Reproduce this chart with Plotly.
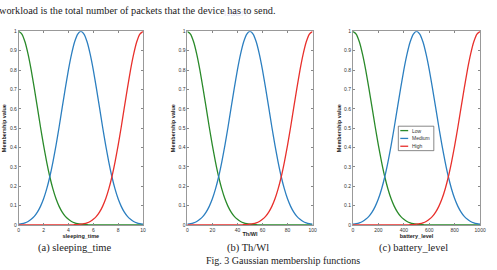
import plotly.graph_objects as go

# ---- data ----
sleeping_time = [0, 0.25, 0.5, 0.75, 1, 1.25, 1.5, 1.75, 2, 2.25, 2.5, 2.75, 3, 3.25, 3.5, 3.75,
                 4, 4.25, 4.5, 4.75, 5, 5.25, 5.5, 5.75, 6, 6.25, 6.5, 6.75, 7, 7.25, 7.5, 7.75,
                 8, 8.25, 8.5, 8.75, 9, 9.25, 9.5, 9.75, 10]
th_wl = [0, 2.5, 5, 7.5, 10, 12.5, 15, 17.5, 20, 22.5, 25, 27.5, 30, 32.5, 35, 37.5,
         40, 42.5, 45, 47.5, 50, 52.5, 55, 57.5, 60, 62.5, 65, 67.5, 70, 72.5, 75, 77.5,
         80, 82.5, 85, 87.5, 90, 92.5, 95, 97.5, 100]
battery_level = [0, 25, 50, 75, 100, 125, 150, 175, 200, 225, 250, 275, 300, 325, 350, 375,
                 400, 425, 450, 475, 500, 525, 550, 575, 600, 625, 650, 675, 700, 725, 750, 775,
                 800, 825, 850, 875, 900, 925, 950, 975, 1000]

low = [1.0, 0.986, 0.946, 0.882, 0.801, 0.707, 0.607, 0.506, 0.411, 0.325, 0.249, 0.186, 0.135,
       0.096, 0.066, 0.044, 0.029, 0.018, 0.011, 0.0066, 0.0039, 0.0022, 0.0012, 0.0006, 0.0003,
       0.0001, 0, 0, 0, 0, 0, 0, 0, 0, 0, 0, 0, 0, 0, 0, 0]
medium = [0.0039, 0.0066, 0.011, 0.018, 0.029, 0.044, 0.066, 0.096, 0.135, 0.186, 0.249, 0.325,
          0.411, 0.506, 0.607, 0.707, 0.801, 0.882, 0.946, 0.986, 1.0, 0.986, 0.946, 0.882,
          0.801, 0.707, 0.607, 0.506, 0.411, 0.325, 0.249, 0.186, 0.135, 0.096, 0.066, 0.044,
          0.029, 0.018, 0.011, 0.0066, 0.0039]
high = [0, 0, 0, 0, 0, 0, 0, 0, 0, 0, 0, 0, 0, 0, 0, 0.0001, 0.0003, 0.0006, 0.0012, 0.0022,
        0.0039, 0.0066, 0.011, 0.018, 0.029, 0.044, 0.066, 0.096, 0.135, 0.186, 0.249, 0.325,
        0.411, 0.506, 0.607, 0.707, 0.801, 0.882, 0.946, 0.986, 1.0]

series_names = ["Low", "Medium", "High"]
series_colors = ["#2a8a2a", "#2c7fc0", "#e8302c"]

x_ticks_a = [0, 2, 4, 6, 8, 10]
x_ticks_b = [0, 20, 40, 60, 80, 100]
x_ticks_c = [0, 200, 400, 600, 800, 1000]
y_ticks = [0, 0.1, 0.2, 0.3, 0.4, 0.5, 0.6, 0.7, 0.8, 0.9, 1]
y_tick_labels = ["0", "0.1", "0.2", "0.3", "0.4", "0.5", "0.6", "0.7", "0.8", "0.9", "1"]

x_titles = ["sleeping_time", "Th/Wl", "battery_level"]
captions = ["(a) sleeping_time", "(b) Th/Wl", "(c) battery_level"]

W, H = 497, 270
panels = [
    dict(x=sleeping_time, ticks=x_ticks_a, px=(18, 144), rng=[0, 10]),
    dict(x=th_wl, ticks=x_ticks_b, px=(189, 316), rng=[0, 100]),
    dict(x=battery_level, ticks=x_ticks_c, px=(357, 486), rng=[0, 1000]),
]
y_px = (29, 227)

fig = go.Figure()
layout = dict(
    width=W, height=H, margin=dict(l=0, r=0, t=0, b=0),
    paper_bgcolor="white", plot_bgcolor="white", showlegend=False,
    font=dict(family="Liberation Sans, Arial", color="#222"),
)

tick_font = dict(size=5, family="Liberation Sans, Arial", color="#333")
for i, p in enumerate(panels):
    xa = "xaxis" if i == 0 else f"xaxis{i+1}"
    ya = "yaxis" if i == 0 else f"yaxis{i+1}"
    xr = "x" if i == 0 else f"x{i+1}"
    yr = "y" if i == 0 else f"y{i+1}"
    for ys, nm, col in zip([low, medium, high], series_names, series_colors):
        fig.add_trace(go.Scatter(
            x=p["x"], y=ys, mode="lines", name=nm, xaxis=xr, yaxis=yr,
            line=dict(color=col, width=1.3, shape="spline", smoothing=0.6),
            showlegend=False))
    layout[xa] = dict(
        domain=[p["px"][0] / W, p["px"][1] / W], range=p["rng"], anchor=yr,
        tickvals=p["ticks"], ticks="inside", ticklen=2, tickcolor="#888",
        showline=True, linecolor="#999", linewidth=0.8, mirror="ticks",
        showgrid=False, zeroline=False, tickfont=tick_font,
        title=dict(text="<b>" + x_titles[i] + "</b>", font=dict(size=5.5), standoff=0),
    )
    layout[ya] = dict(
        domain=[1 - y_px[1] / H, 1 - y_px[0] / H], range=[0, 1], anchor=xr,
        tickvals=y_ticks, ticktext=y_tick_labels, ticks="inside", ticklen=2,
        tickcolor="#888", showline=True, linecolor="#999", linewidth=0.8,
        mirror="ticks", showgrid=False, zeroline=False, tickfont=tick_font,
        title=dict(text="<b>Membership value</b>", font=dict(size=5.5), standoff=2),
    )
fig.update_layout(**layout)


def px_x(v):
    return v / W


def px_y(v):
    return 1 - v / H


# legend box (panel c)
lg_left, lg_top, lg_right, lg_bottom = 403, 126, 439, 151
fig.add_shape(type="rect", xref="paper", yref="paper",
              x0=px_x(lg_left), x1=px_x(lg_right), y0=px_y(lg_bottom), y1=px_y(lg_top),
              line=dict(color="#555", width=0.7), fillcolor="white", layer="above")
for k, (nm, col) in enumerate(zip(series_names, series_colors)):
    yy = 130.5 + k * 8
    fig.add_shape(type="line", xref="paper", yref="paper",
                  x0=px_x(405), x1=px_x(413), y0=px_y(yy), y1=px_y(yy),
                  line=dict(color=col, width=1.3), layer="above")
    fig.add_annotation(x=px_x(415), y=px_y(yy), xref="paper", yref="paper",
                       xanchor="left", yanchor="middle", text=nm, showarrow=False,
                       font=dict(size=5, family="Liberation Sans, Arial", color="#333"))

serif = "Liberation Serif, Times New Roman, serif"
caption_x = [75, 251, 418]
for cx, txt in zip(caption_x, captions):
    fig.add_annotation(x=px_x(cx), y=px_y(251), xref="paper", yref="paper",
                       xanchor="center", yanchor="middle",
                       text=txt, showarrow=False, font=dict(size=10.5, family=serif, color="#222"))
fig.add_annotation(x=px_x(286), y=px_y(263), xref="paper", yref="paper",
                   xanchor="center", yanchor="middle",
                   text="Fig. 3 Gaussian membership functions", showarrow=False,
                   font=dict(size=10, family=serif, color="#222"))
fig.add_annotation(x=px_x(-4), y=px_y(8), xref="paper", yref="paper",
                   xanchor="left", yanchor="middle",
                   text="workload is the total number of packets that the device has to send.",
                   showarrow=False, font=dict(size=10.3, family=serif, color="#222"))
fig.add_annotation(x=px_x(238), y=px_y(11), xref="paper", yref="paper",
                   xanchor="center", yanchor="middle",
                   text="IJSER", showarrow=False,
                   font=dict(size=8, family="Liberation Sans, Arial", color="rgba(150,150,225,0.3)"))

fig.write_html("out.html")
